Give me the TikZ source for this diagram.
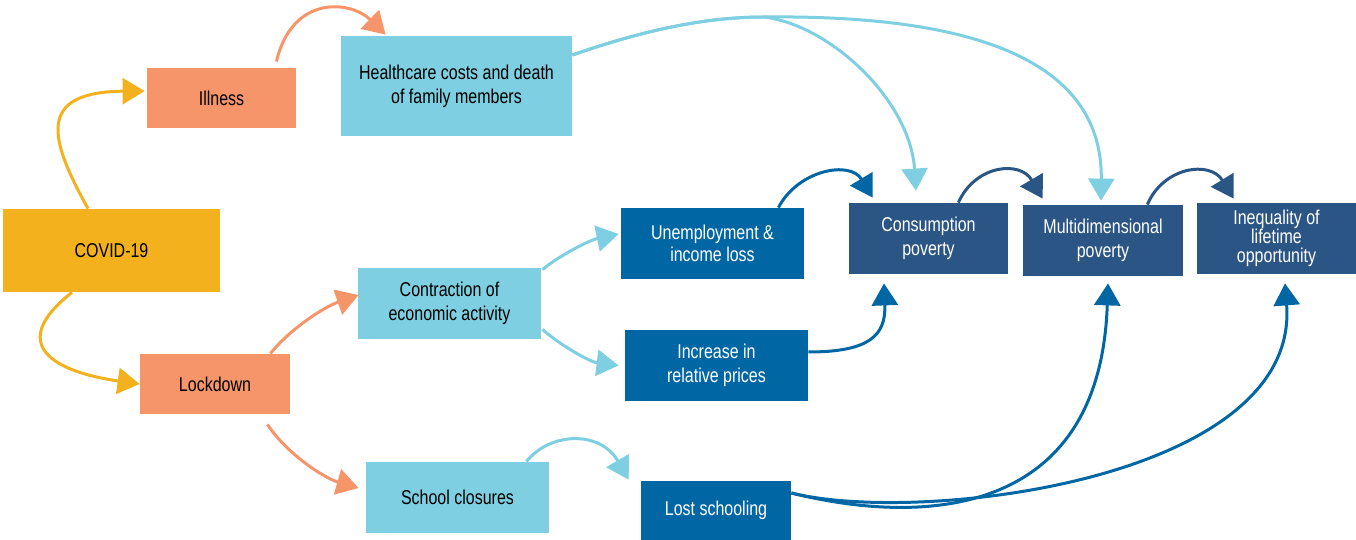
\documentclass[tikz,border=0pt]{standalone}
\usepackage{fontspec}
\setmainfont[FakeStretch=0.8]{Liberation Sans}
\usetikzlibrary{arrows.meta,calc}

\definecolor{covidgold}{HTML}{F4B11E}
\definecolor{salmon}{HTML}{F7956A}
\definecolor{skyteal}{HTML}{7ECFE1}
\definecolor{midblue}{HTML}{0066A4}
\definecolor{navyblue}{HTML}{2A5585}

\begin{document}
\begin{tikzpicture}[x=0.5pt,y=-0.5pt]
    \tikzset{box/.style = {shape=rectangle, inner sep=0pt, align=center, font=\fontsize{10}{12}\selectfont}}
    \tikzset{goldbox/.style = {box, fill=covidgold}}
    \tikzset{salmonbox/.style = {box, fill=salmon, minimum width=75pt, minimum height=30pt}}
    \tikzset{tealbox/.style = {box, fill=skyteal, minimum width=91.5pt, minimum height=35.5pt}}
    \tikzset{bluebox/.style = {box, fill=midblue, text=white, minimum width=91.5pt, minimum height=35.5pt}}
    \tikzset{navybox/.style = {box, fill=navyblue, text=white, minimum width=79.5pt, minimum height=35.5pt}}
    \tikzset{link/.style = {line width=1.5pt, -{Triangle[length=11pt,width=13pt]}}}

    \useasboundingbox (0,0) rectangle (1356,540);

    % boxes
    \node[goldbox, minimum width=108.5pt, minimum height=41.5pt] (covid) at (111.5,250.5) {COVID-19};
    \node[salmonbox, minimum width=74.5pt] (illness) at (221.5,98) {Illness};
    \node[salmonbox] (lockdown) at (215,384) {Lockdown};
    \node[tealbox, minimum width=115.5pt, minimum height=50pt] (health) at (456.5,86) {Healthcare costs and death\\of family members};
    \node[tealbox] (contraction) at (449.5,303.5) {Contraction of\\economic activity};
    \node[tealbox] (school) at (457.5,497.5) {School closures};
    \node[bluebox, font=\fontsize{10}{11}\selectfont] (unemp) at (712.5,243.5) {Unemployment \&\\income loss};
    \node[bluebox] (increase) at (716.5,365.5) {Increase in\\relative prices};
    \node[bluebox, minimum width=75pt, minimum height=29.5pt] (lost) at (716,510.5) {Lost schooling};
    \node[navybox] (cons) at (928.5,238.5) {Consumption\\poverty};
    \node[navybox, minimum width=80pt] (multi) at (1103,240.5) {Multidimensional\\poverty};
    \node[navybox, font=\fontsize{10}{9.5}\selectfont] (ineq) at (1276.5,238.5) {Inequality of\\lifetime\\opportunity};
    \coordinate (hcsplit) at (764,17);

    % connectors
    \draw[link,covidgold] ($(covid.north)+(-23.5,0)$) .. controls (50,140) and (35,92) .. ($(illness.west)+(-2,-7)$);
    \draw[link,covidgold] ($(covid.south)+(-39.5,0)$) .. controls (5,345) and (55,372) .. (lockdown.west);
    \draw[link,salmon] ($(illness.north east)+(-20,-6)$) .. controls (292,-5) and (350,0) .. ($(health.north west)+(45,-1)$);
    \draw[link,salmon] ($(lockdown.north east)+(-20,0)$) .. controls (290,329) and (324,307) .. ($(contraction.west)+(1,-8.5)$);
    \draw[link,salmon] ($(lockdown.south east)+(-23,10)$) .. controls (287,454) and (324,478) .. ($(school.west)+(-7,-9.5)$);
    \draw[link,skyteal] ($(contraction.north east)+(1,2)$) .. controls (560,255) and (590,240) .. ($(unemp.west)+(-2,-9.5)$);
    \draw[link,skyteal] ($(contraction.south east)+(1,-10)$) .. controls (560,345) and (590,362) .. ($(increase.west)+(-6,0)$);
    \draw[link,skyteal] ($(school.north east)+(-23,0)$) .. controls (550,432) and (600,430) .. ($(lost.north west)+(-12,-1)$);
    \draw[link,skyteal] ($(health.east)+(0,-31)$) .. controls (650,28) and (710,17) .. (hcsplit)
        .. controls (830,25) and (910,100) .. ($(cons.north)+(-12.5,-12)$);
    \draw[link,skyteal] ($(health.east)+(0,-31)$) .. controls (650,28) and (710,17) .. (hcsplit)
        .. controls (950,15) and (1103,50) .. ($(multi.north)+(-2,-4)$);
    \draw[link,midblue] ($(unemp.north east)+(-26,0)$) .. controls (798,170) and (850,160) .. ($(cons.north west)+(24,-5)$);
    \draw[link,midblue] ($(increase.east)+(0,-13.5)$) .. controls (870,352) and (886,335) .. ($(cons.south)+(-44.5,9)$);
    \draw[link,midblue] ($(lost.east)+(0,-17.5)$) .. controls (920,525) and (1100,520) .. ($(multi.south)+(5,7)$);
    \draw[link,midblue] ($(lost.east)+(0,-17.5)$) .. controls (920,525) and (1300,480) .. ($(ineq.south)+(8.5,9)$);
    \draw[link,navyblue] ($(cons.north east)+(-50,0)$) .. controls (975,165) and (1020,160) .. ($(multi.north west)+(20,-6)$);
    \draw[link,navyblue] ($(multi.north east)+(-36,0)$) .. controls (1163,167) and (1210,160) .. ($(ineq.north west)+(37,-4)$);
\end{tikzpicture}
\end{document}
